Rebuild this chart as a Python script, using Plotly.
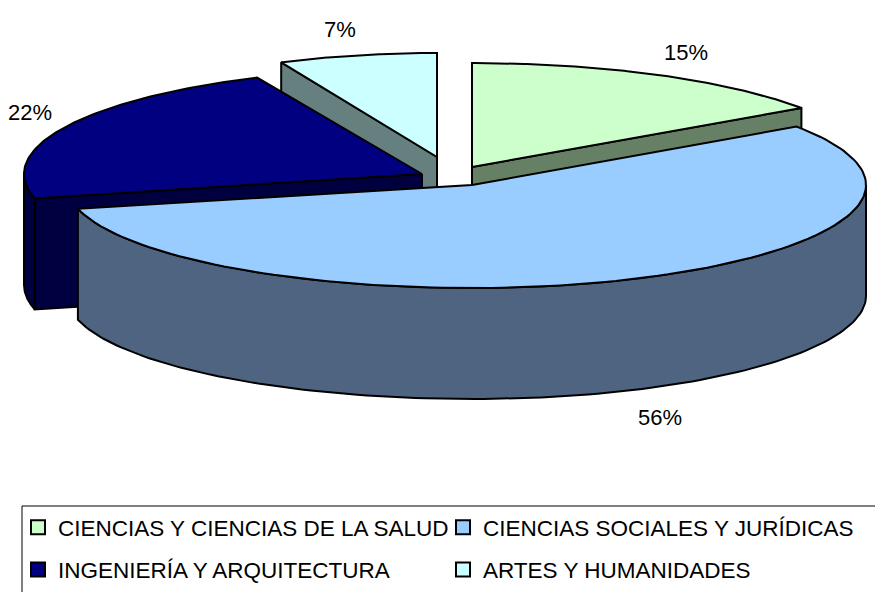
import numpy as np
import plotly.graph_objects as go

# ---- data (shares in %, percent labels are rounded from these)
categories = ["CIENCIAS Y CIENCIAS DE LA SALUD", "CIENCIAS SOCIALES Y JURÍDICAS",
              "INGENIERÍA Y ARQUITECTURA", "ARTES Y HUMANIDADES"]
shares = [15.4, 55.9, 21.9, 6.8]

top_colors = ["#CCFFCC", "#99CCFF", "#000080", "#CCFFFF"]
side_colors = ["#668066", "#4F6480", "#000040", "#668080"]

# ---- geometry of the tilted, exploded pie (axes run in page pixels)
apex = [(472, 167), (472, 185), (422, 174), (437, 157)]
rx_right = [400, 394, 400, 376]
rx_left = [400, 405, 398, 376]
ry = [104, 103, 106, 104]
DEPTH = 111
FONT = "Liberation Sans"

edges = np.concatenate([[0], np.cumsum(shares)]) / sum(shares) * 2 * np.pi


def rim(i, a, b, n=120):
    t = np.linspace(a, b, n)
    rx = np.where(np.sin(t) >= 0, rx_right[i], rx_left[i])
    return apex[i][0] + rx * np.sin(t), apex[i][1] - ry[i] * np.cos(t)


def poly(xs, ys, color):
    return go.Scatter(x=list(xs), y=list(ys), mode="lines", fill="toself", fillcolor=color,
                      line=dict(color="black", width=2), showlegend=False, hoverinfo="skip")


def top(i):
    x, y = rim(i, edges[i], edges[i + 1])
    ax, ay = apex[i]
    return poly(np.r_[ax, x, ax], np.r_[ay, y, ay], top_colors[i])


def radial_wall(i, angle):
    x, y = rim(i, angle, angle, 1)
    ax, ay = apex[i]
    return poly([ax, x[0], x[0], ax, ax],
                [ay, y[0], y[0] + DEPTH, ay + DEPTH, ay], side_colors[i])


def outer_wall(i, a, b):
    x, y = rim(i, a, b)
    return poly(np.r_[x, x[::-1], x[0]], np.r_[y, y[::-1] + DEPTH, y[0]], side_colors[i])


fig = go.Figure()
# painted back to front
fig.add_trace(radial_wall(3, edges[3]))
fig.add_trace(top(3))
fig.add_trace(radial_wall(0, edges[1]))
fig.add_trace(top(0))
fig.add_trace(outer_wall(2, edges[2], 1.5 * np.pi))
fig.add_trace(radial_wall(2, edges[2]))
fig.add_trace(top(2))
fig.add_trace(outer_wall(1, 0.5 * np.pi, edges[2]))
fig.add_trace(top(1))

# legend: two columns, one legend each
for i, legend_id in zip([0, 2, 1, 3], ["legend", "legend", "legend2", "legend2"]):
    fig.add_trace(go.Scatter(
        x=[None], y=[None], mode="markers", name=categories[i], legend=legend_id,
        legendgroup=categories[i],
        marker=dict(symbol="square", size=14, color=top_colors[i], line=dict(color="black", width=2)),
    ))

label_pos = [(686, 52), (660, 417), (30, 112), (340, 29)]
for s, (lx, ly) in zip(shares, label_pos):
    fig.add_annotation(x=lx, y=ly, text=f"{round(s)}%", showarrow=False,
                       font=dict(family=FONT, size=22, color="black"))

legend_style = dict(yanchor="top", xanchor="left", bgcolor="rgba(0,0,0,0)", borderwidth=0,
                    orientation="v", tracegroupgap=10, itemwidth=30,
                    font=dict(family=FONT, size=22.5, color="black"))

fig.update_layout(
    width=875, height=592, margin=dict(l=0, r=0, t=0, b=0),
    paper_bgcolor="white", plot_bgcolor="white",
    xaxis=dict(range=[0, 875], visible=False, fixedrange=True),
    yaxis=dict(range=[592, 0], visible=False, fixedrange=True),
    legend=dict(x=18 / 875, y=1 - 506 / 592, **legend_style),
    legend2=dict(x=443 / 875, y=1 - 506 / 592, **legend_style),
    shapes=[dict(type="rect", xref="x", yref="y", x0=22, x1=880, y0=506, y1=600,
                 line=dict(color="black", width=1), fillcolor="rgba(0,0,0,0)")],
)
fig.write_html("out.html", config={"displayModeBar": False},
               post_script="document.body.style.margin='0';")
